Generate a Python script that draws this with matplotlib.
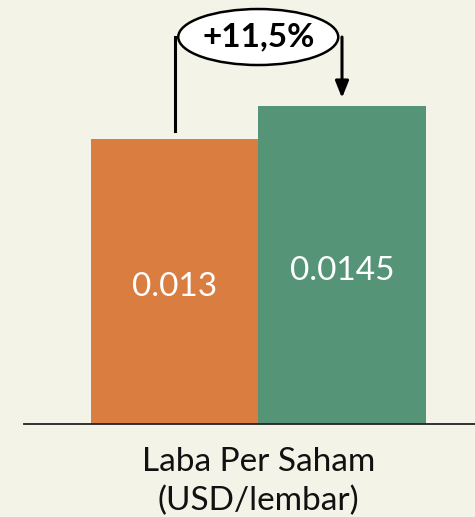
import matplotlib.pyplot as plt
from matplotlib.patches import Ellipse

categories = ['Sebelum', 'Sesudah']
values = [0.013, 0.0145]
value_labels = ['0.013', '0.0145']
bar_colors = ['#d97d41', '#559476']
change_label = '+11,5%'
axis_label = 'Laba Per Saham\n(USD/lembar)'

bg = '#f3f3e8'
W, H = 475, 517
px_per_unit_y = 21925.0   # pixels per data unit (y)
px_per_unit_x = 167.5     # pixels per bar
base_px = 93              # baseline height from bottom
x0_px = 174.5             # centre of first bar

fig = plt.figure(figsize=(W / 100, H / 100), dpi=100, facecolor=bg)
ax = fig.add_axes([0, 0, 1, 1])
ax.set_facecolor(bg)
ax.set_xlim(-x0_px / px_per_unit_x, (W - x0_px) / px_per_unit_x)
ax.set_ylim(-base_px / px_per_unit_y, (H - base_px) / px_per_unit_y)
ax.axis('off')

xs = list(range(len(values)))
ax.bar(xs, values, width=1.0, color=bar_colors, zorder=2)

# value labels near the middle of each bar
for x, v, lab in zip(xs, values, value_labels):
    ax.text(x, v / 2 - 0.00025, lab, ha='center', va='center', color='white',
            fontsize=24, family='Lato', zorder=3)

# baseline
ax.plot([(24 - x0_px) / px_per_unit_x, ax.get_xlim()[1]], [0, 0],
        color='#222222', lw=1.3, zorder=3, clip_on=False)

# category label (two lines, placed separately for spacing)
lines = axis_label.split('\n')
ax.text(0.5, -0.00215, lines[0], ha='center', va='baseline', fontsize=24,
        family='Lato', color='#111111')
ax.text(0.5, -0.00393, lines[1], ha='center', va='baseline', fontsize=24,
        family='Lato', color='#111111')

# change annotation
gap = 0.00037
ell_y = 0.01765
ax.plot([xs[0], xs[0]], [values[0] + gap, ell_y], color='black', lw=2.2, zorder=3)
ax.annotate('', xy=(xs[1], values[1] + gap), xytext=(xs[1], ell_y),
            arrowprops=dict(arrowstyle='-|>,head_width=0.4,head_length=1.0',
                            color='black', lw=2.2, shrinkA=0, shrinkB=0))
ax.add_patch(Ellipse((0.5, ell_y), 160 / px_per_unit_x, 56 / px_per_unit_y,
                     facecolor='white', edgecolor='black', lw=1.8, zorder=4))
ax.text(0.5, ell_y, change_label, ha='center', va='center', fontsize=24,
        fontweight='bold', family='Lato', zorder=5)

fig.savefig('out.png', dpi=100, facecolor=bg)
